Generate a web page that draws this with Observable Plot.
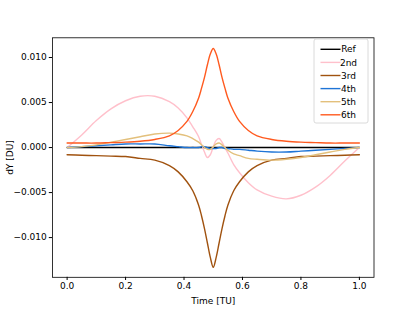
<!DOCTYPE html>
<html>
<head>
<meta charset="utf-8">
<script src="https://cdn.jsdelivr.net/npm/d3@7"></script>
<script src="https://cdn.jsdelivr.net/npm/@observablehq/plot@0.6"></script>
<style>
  html, body { margin: 0; padding: 0; background: #fff; }
  #chart svg { display: block; }
</style>
</head>
<body>
<div id="chart"></div>
<script>
// ---- data ----
const seriesNames = ["Ref", "2nd", "3rd", "4th", "5th", "6th"];
const seriesColors = ["#000000", "#ffc0cb", "#a0520f", "#1e74d6", "#e3c07c", "#ff5a1f"];

const t = [0, 0.05, 0.1, 0.15, 0.2, 0.25, 0.3, 0.35, 0.38, 0.41, 0.43, 0.45, 0.46, 0.47, 0.48, 0.49, 0.5,
           0.51, 0.52, 0.53, 0.54, 0.55, 0.57, 0.59, 0.62, 0.65, 0.7, 0.75, 0.8, 0.85, 0.9, 0.95, 1.0];

const ref = [0, 0, 0, 0, 0, 0, 0, 0, 0, 0, 0, 0, 0, 0, 0, 0, 0,
             0, 0, 0, 0, 0, 0, 0, 0, 0, 0, 0, 0, 0, 0, 0, 0];

const second = [0.0000, 0.0014, 0.0030, 0.0043, 0.0052, 0.0057, 0.0057, 0.0051, 0.0044, 0.0033, 0.0023, 0.0012, 0.0003, -0.0005, -0.0011, -0.0008, 0.0001,
                0.0008, 0.0010, 0.0006, 0.0000, -0.0006, -0.0019, -0.0028, -0.0039, -0.0047, -0.0054, -0.0057, -0.0053, -0.0044, -0.0031, -0.0015, 0.0000];

const third = [-0.0008, -0.00085, -0.0009, -0.00095, -0.0010, -0.0012, -0.0014, -0.0020, -0.0027, -0.0038, -0.0048, -0.0064, -0.0076, -0.0090, -0.0106, -0.0122, -0.0133,
               -0.0122, -0.0106, -0.0090, -0.0076, -0.0064, -0.0048, -0.0038, -0.0027, -0.0020, -0.0014, -0.0012, -0.0010, -0.00095, -0.0009, -0.00085, -0.0008];

const fourth = [0.0000, 0.0001, 0.0002, 0.0003, 0.0004, 0.0004, 0.0004, 0.0002, 0.0001, 0.0000, 0.0000, 0.0000, 0.0001, 0.0001, 0.0000, -0.0001, -0.0001,
                -0.0001, 0.0000, 0.0000, -0.0001, -0.0001, -0.0002, -0.0002, -0.0003, -0.0004, -0.0005, -0.0005, -0.0004, -0.0003, -0.0002, -0.0001, 0.0000];

const fifth = [0.0000, 0.0001, 0.0003, 0.0006, 0.0009, 0.0012, 0.0015, 0.0016, 0.0015, 0.0013, 0.0010, 0.0006, 0.0003, 0.0000, -0.0002, -0.0002, 0.0001,
               0.0004, 0.0005, 0.0003, 0.0000, -0.0003, -0.0007, -0.0009, -0.0012, -0.0013, -0.0014, -0.0013, -0.0011, -0.0008, -0.0005, -0.0002, 0.0000];

const sixth = [0.0005, 0.0005, 0.0005, 0.00055, 0.0006, 0.0007, 0.0009, 0.0013, 0.0019, 0.0029, 0.0040, 0.0055, 0.0066, 0.0078, 0.0092, 0.0104, 0.0110,
               0.0104, 0.0092, 0.0078, 0.0066, 0.0055, 0.0040, 0.0029, 0.0019, 0.0013, 0.0009, 0.0007, 0.0006, 0.00055, 0.0005, 0.0005, 0.0005];

const xTicks = [0, 0.2, 0.4, 0.6, 0.8, 1.0];
const yTicks = [-0.010, -0.005, 0.000, 0.005, 0.010];

// ---- build long table ----
const seriesValues = [ref, second, third, fourth, fifth, sixth];
const rows = [];
seriesNames.forEach((name, i) => {
  t.forEach((tt, j) => rows.push({series: name, t: tt, v: seriesValues[i][j]}));
});

const font = "'DejaVu Sans', sans-serif";

const chart = Plot.plot({
  width: 415,
  height: 311,
  marginLeft: 52,
  marginRight: 41.5,
  marginTop: 37.3,
  marginBottom: 34.2,
  style: {fontFamily: font, fontSize: "9px", color: "#000", background: "#fff"},
  x: {domain: [-0.05, 1.05], ticks: xTicks, tickFormat: d3.format(".1f")},
  y: {domain: [-0.01441, 0.01219], ticks: yTicks, tickFormat: d3.format(".3f")},
  color: {domain: seriesNames, range: seriesColors},
  marks: [
    Plot.line(rows, {x: "t", y: "v", z: "series", stroke: "series", strokeWidth: 1.4, curve: "catmull-rom"}),
    Plot.frame({stroke: "#000", strokeWidth: 0.8}),
    Plot.axisX({ticks: xTicks, tickFormat: d3.format(".1f"), tickSize: 3.2, tickPadding: 2.5,
                label: "Time [TU]", labelAnchor: "center", labelArrow: "none", labelOffset: 27}),
    Plot.axisY({ticks: yTicks, tickFormat: d3.format(".3f"), tickSize: 3.2, tickPadding: 2.5,
                label: "dY [DU]", labelAnchor: "center", labelArrow: "none", labelOffset: 46})
  ]
});

document.getElementById("chart").appendChild(chart);

// ---- legend (top-right, inside the axes) ----
const svg = d3.select(chart);
const lg = svg.append("g").attr("font-family", font).attr("font-size", "9px");
const bx = 314, by = 39, bw = 54, bh = 84, rowH = 13.1;
lg.append("rect").attr("x", bx).attr("y", by).attr("width", bw).attr("height", bh)
  .attr("rx", 2).attr("fill", "#fff").attr("fill-opacity", 0.8).attr("stroke", "#d0d0d0").attr("stroke-width", 0.8);
seriesNames.forEach((name, i) => {
  const yy = by + 10.3 + i * rowH;
  lg.append("line").attr("x1", bx + 6.5).attr("x2", bx + 26.5).attr("y1", yy).attr("y2", yy)
    .attr("stroke", seriesColors[i]).attr("stroke-width", 1.4);
  lg.append("text").attr("x", bx + 34.5).attr("y", yy).attr("dy", "0.35em").attr("fill", "#000").text(name);
});
</script>
</body>
</html>
